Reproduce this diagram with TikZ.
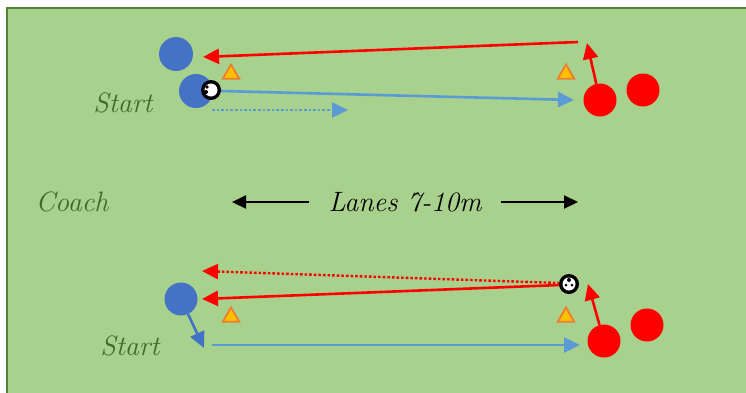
\documentclass[tikz,border=0pt]{standalone}
\usetikzlibrary{arrows.meta,shapes.geometric}
\definecolor{fieldfill}{HTML}{A9D18E}
\definecolor{fieldline}{HTML}{548235}
\definecolor{pblue}{HTML}{4472C4}
\definecolor{lblue}{HTML}{5B9BD5}
\definecolor{pred}{HTML}{FF0000}
\definecolor{corange}{HTML}{ED7D31}
\definecolor{cyellow}{HTML}{FFC000}
\definecolor{txtgreen}{HTML}{3B6B2A}
\begin{document}
\begin{tikzpicture}[x=1pt,y=-1pt,
  bluep/.style={circle,fill=pblue,minimum size=34pt,inner sep=0pt},
  redp/.style={circle,fill=pred,minimum size=33pt,inner sep=0pt},
  cone/.style={regular polygon,regular polygon sides=3,draw=corange,fill=cyellow,line width=1.8pt,minimum size=19pt,inner sep=0pt},
  redarrow/.style={draw=pred,line width=2.6pt,-{Triangle[length=16pt,width=15pt]}},
  bluearrow/.style={draw=lblue,line width=2.6pt,-{Triangle[length=16pt,width=15pt]}},
  bluepath/.style={draw=pblue,line width=2.6pt,-{Triangle[length=16pt,width=15pt]}},
  blackarrow/.style={draw=black,line width=2pt,-{Triangle[length=14pt,width=13pt]}},
  hand/.style={font=\itshape\fontsize{28}{32}\selectfont,inner sep=0pt},
  ball/.style={circle,fill=black,minimum size=20pt,inner sep=0pt}
]
\useasboundingbox (0,0) rectangle (746,392);
\fill[fieldfill] (7,8) rectangle (760,400);
\draw[fieldline,line width=2pt] (760,8) -- (7,8) -- (7,400);

% ---------- top lane ----------
\node[bluep] (b1) at (176,54) {};
\node[bluep] (b2) at (196,91) {};
\node[redp] (r1) at (600,100) {};
\node[redp] (r2) at (643,90) {};
\node[cone] (c1) at (231,74) {};
\node[cone] (c2) at (566,74) {};
\node[hand,text=txtgreen] (start1) at (123,103) {Start};

\coordinate (t1a) at (578,42);
\coordinate (t1b) at (203,57);
\draw[redarrow] (t1a) -- (t1b);
\coordinate (t2b) at (587,43);
\draw[redarrow] (r1) -- (t2b);
\coordinate (t3a) at (221,91);
\coordinate (t3b) at (574,100);
\draw[bluearrow] (t3a) -- (t3b);
\coordinate (t4a) at (212,110);
\coordinate (t4b) at (348,110);
\draw[bluearrow,dotted,line width=2.4pt] (t4a) -- (t4b);
\node[ball] (ball1) at (211,90) {};
\fill[white] (ball1.center) circle (6.5pt);
\fill[black] ([shift={(-5pt,-2pt)}]ball1.center) circle (2pt);
\fill[black] ([shift={(-4pt,3pt)}]ball1.center) circle (1.8pt);

% ---------- middle ----------
\node[hand,text=txtgreen] (coach) at (72,202) {Coach};
\node[hand,text=black] (lanes) at (405,202) {Lanes 7-10m};
\coordinate (la) at (232,202);
\coordinate (lb) at (578,202);
\draw[blackarrow] (lanes.west) ++(-19pt,0) -- (la);
\draw[blackarrow] (lanes.east) ++(19pt,0) -- (lb);

% ---------- bottom lane ----------
\node[bluep,minimum size=33pt] (b3) at (181,299) {};
\node[redp] (r3) at (604,341) {};
\node[redp] (r4) at (647,325) {};
\node[cone] (c3) at (231,317) {};
\node[cone] (c4) at (566,317) {};
\node[hand,text=txtgreen] (start2) at (130,346) {Start};

\coordinate (u1b) at (204,348);
\draw[bluepath] (b3) -- (u1b);
\coordinate (u2a) at (212,345);
\coordinate (u2b) at (580,345);
\draw[bluearrow] (u2a) -- (u2b);
\coordinate (u3a) at (560,283);
\coordinate (u3b) at (202,271);
\draw[redarrow,dotted,line width=2.4pt] (u3a) -- (u3b);
\coordinate (u4a) at (560,285);
\coordinate (u4b) at (202,299);
\draw[redarrow] (u4a) -- (u4b);
\coordinate (u5b) at (588,284);
\draw[redarrow] (r3) -- (u5b);
\node[ball] (ball2) at (569,284) {};
\fill[white] (ball2.center) circle (6.5pt);
\fill[black] ([shift={(0pt,4pt)}]ball2.center) circle (2pt);
\fill[black] ([shift={(-3pt,-1pt)}]ball2.center) circle (1.5pt);
\fill[black] ([shift={(3pt,-1pt)}]ball2.center) circle (1.5pt);
\end{tikzpicture}
\end{document}
